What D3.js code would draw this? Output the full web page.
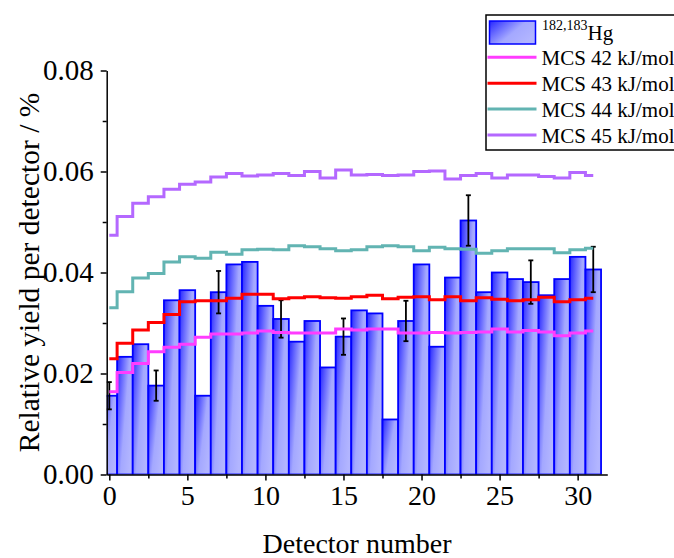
<!DOCTYPE html>
<html>
<head>
<meta charset="utf-8">
<script src="https://cdn.jsdelivr.net/npm/d3@7"></script>
<style>
  html, body { margin: 0; padding: 0; background: #fff; }
  svg { display: block; font-family: "Liberation Serif", "Times New Roman", serif; }
</style>
</head>
<body>
<svg id="chart" width="674" height="558"></svg>
<script>
// ---------------- data ----------------
const detectors = [0,1,2,3,4,5,6,7,8,9,10,11,12,13,14,15,16,17,18,19,20,21,22,23,24,25,26,27,28,29,30,31];
const yieldHg = [0.0156,0.0233,0.0258,0.0176,0.0345,0.0365,0.0156,0.0361,0.0416,0.0421,0.0334,0.0308,
                 0.0263,0.0304,0.0212,0.0273,0.0325,0.0319,0.0109,0.0304,0.0416,0.0253,0.0390,0.0503,
                 0.0361,0.0400,0.0387,0.0381,0.0355,0.0387,0.0431,0.0406];
const errDetectors = [0,3,7,11,15,19,23,27,31];
const errValues = [0.0027,0.0030,0.0042,0.0037,0.0036,0.0040,0.0050,0.0043,0.0045];
const mcs42 = [0.0164,0.0202,0.0220,0.0243,0.0252,0.0258,0.0272,0.0278,0.0278,0.0280,0.0284,0.0281,
               0.0280,0.0280,0.0280,0.0288,0.0286,0.0288,0.0288,0.0280,0.0280,0.0281,0.0280,0.0281,
               0.0282,0.0288,0.0282,0.0285,0.0282,0.0275,0.0280,0.0284];
const mcs43 = [0.0229,0.0260,0.0286,0.0301,0.0317,0.0342,0.0344,0.0344,0.0349,0.0357,0.0357,0.0348,
               0.0350,0.0352,0.0350,0.0349,0.0352,0.0355,0.0348,0.0351,0.0352,0.0346,0.0352,0.0344,
               0.0350,0.0347,0.0344,0.0346,0.0351,0.0342,0.0346,0.0349];
const mcs44 = [0.0330,0.0362,0.0389,0.0398,0.0421,0.0431,0.0428,0.0440,0.0436,0.0445,0.0446,0.0445,
               0.0453,0.0451,0.0447,0.0443,0.0445,0.0451,0.0453,0.0451,0.0443,0.0450,0.0447,0.0446,
               0.0438,0.0443,0.0447,0.0447,0.0447,0.0439,0.0445,0.0448];
const mcs45 = [0.0474,0.0511,0.0537,0.0550,0.0565,0.0575,0.0579,0.0589,0.0596,0.0591,0.0593,0.0596,
               0.0592,0.0600,0.0587,0.0603,0.0593,0.0594,0.0592,0.0593,0.0600,0.0601,0.0585,0.0592,
               0.0596,0.0587,0.0593,0.0593,0.0590,0.0587,0.0598,0.0592];
const seriesNames = ["MCS 42 kJ/mol", "MCS 43 kJ/mol", "MCS 44 kJ/mol", "MCS 45 kJ/mol"];
const seriesColors = ["#ff3cff", "#ff0000", "#62b4b2", "#b468ff"];
const xMajorTicks = [0,5,10,15,20,25,30];
const xMinorTicks = [2.5,7.5,12.5,17.5,22.5,27.5];
const yMajorTicks = [0,0.02,0.04,0.06,0.08];
const yMinorTicks = [0.01,0.03,0.05,0.07];
const xTitle = "Detector number";
const yTitle = "Relative yield per detector / %";

// ---------------- layout ----------------
const svg = d3.select("#chart");
const x = d3.scaleLinear().domain([-0.167, 31.9]).range([106.7, 607.3]);
const y = d3.scaleLinear().domain([0, 0.08]).range([474.5, 70.5]);

const defs = svg.append("defs");
const grad = defs.append("linearGradient").attr("id", "barGrad")
  .attr("x1", 0).attr("y1", 0).attr("x2", 1).attr("y2", 0.6);
[[0, "#2626ff"], [0.3, "#6668ff"], [0.6, "#a4a8ff"], [1, "#b2b5ff"]].forEach(([o, c]) =>
  grad.append("stop").attr("offset", o).attr("stop-color", c));
defs.append("clipPath").attr("id", "plotClip").append("rect")
  .attr("x", x.range()[0]).attr("y", 0)
  .attr("width", x.range()[1] - x.range()[0]).attr("height", y(0));

// bars
svg.append("g").attr("clip-path", "url(#plotClip)")
  .selectAll("rect").data(detectors).join("rect")
  .attr("x", d => x(d - 0.5))
  .attr("width", d => x(d + 0.5) - x(d - 0.5))
  .attr("y", d => y(yieldHg[d]))
  .attr("height", d => y(0) - y(yieldHg[d]))
  .attr("fill", "url(#barGrad)")
  .attr("stroke", "#0000ff").attr("stroke-width", 1.8);

// error bars
const eg = svg.append("g").attr("stroke", "#000").attr("stroke-width", 1.8);
errDetectors.forEach((d, k) => {
  const v = yieldHg[d], e = errValues[k];
  eg.append("line").attr("x1", x(d)).attr("x2", x(d)).attr("y1", y(v + e)).attr("y2", y(v - e));
  [v + e, v - e].forEach(t => eg.append("line")
    .attr("x1", x(d) - 2.5).attr("x2", x(d) + 2.5).attr("y1", y(t)).attr("y2", y(t)));
});

// step lines
const line = d3.line().x((v, i) => x(detectors[i])).y(v => y(v)).curve(d3.curveStep);
[mcs42, mcs43, mcs44, mcs45].forEach((s, k) => {
  svg.append("path").datum(s).attr("d", line)
    .attr("fill", "none").attr("stroke", seriesColors[k]).attr("stroke-width", 3);
});

// axes
function styleAxis(g, fs) {
  g.select(".domain").attr("stroke", "#000").attr("stroke-width", 1.5);
  g.selectAll(".tick line").attr("stroke", "#000").attr("stroke-width", 1.5);
  g.selectAll(".tick text").attr("fill", "#000").attr("font-size", fs)
    .attr("font-family", "Liberation Serif, Times New Roman, serif");
}
const xAxis = svg.append("g").attr("transform", `translate(0,${y(0)})`)
  .call(d3.axisBottom(x).tickValues(xMajorTicks).tickSize(6).tickSizeOuter(0).tickPadding(5).tickFormat(d3.format("d")));
styleAxis(xAxis, 28);
const xMinor = svg.append("g").attr("transform", `translate(0,${y(0)})`)
  .call(d3.axisBottom(x).tickValues(xMinorTicks).tickSize(4).tickFormat(""));
xMinor.select(".domain").remove();
styleAxis(xMinor, 28);

const yAxis = svg.append("g").attr("transform", `translate(${x.range()[0]},0)`)
  .call(d3.axisLeft(y).tickValues(yMajorTicks).tickSize(6).tickSizeOuter(0).tickPadding(7).tickFormat(d3.format(".2f")));
styleAxis(yAxis, 29);
const yMinor = svg.append("g").attr("transform", `translate(${x.range()[0]},0)`)
  .call(d3.axisLeft(y).tickValues(yMinorTicks).tickSize(4).tickFormat(""));
yMinor.select(".domain").remove();
styleAxis(yMinor, 29);

// titles
svg.append("text").attr("x", 357).attr("y", 553).attr("text-anchor", "middle")
  .attr("font-size", 28).text(xTitle);
svg.append("text").attr("transform", "translate(39,272.5) rotate(-90)").attr("text-anchor", "middle")
  .attr("font-size", 29.5).text(yTitle);

// legend
const lg = svg.append("g");
lg.append("rect").attr("x", 486).attr("y", 15).attr("width", 220).attr("height", 135)
  .attr("fill", "#fff").attr("stroke", "#000").attr("stroke-width", 1.5);
lg.append("rect").attr("x", 489.5).attr("y", 21).attr("width", 46).attr("height", 23)
  .attr("fill", "url(#barGrad)").attr("stroke", "#0000ff").attr("stroke-width", 1.5);
const hgText = lg.append("text").attr("x", 542).attr("y", 40).attr("font-size", 21);
hgText.append("tspan").attr("font-size", 14).attr("dy", -10).text("182,183");
hgText.append("tspan").attr("dy", 10).text("Hg");
const rowY = [57.3, 83.3, 109, 135];
seriesNames.forEach((n, k) => {
  lg.append("line").attr("x1", 487.5).attr("x2", 536.5).attr("y1", rowY[k]).attr("y2", rowY[k])
    .attr("stroke", seriesColors[k]).attr("stroke-width", 3);
  lg.append("text").attr("x", 541.5).attr("y", rowY[k] + 7.5).attr("font-size", 21).text(n);
});
</script>
</body>
</html>
